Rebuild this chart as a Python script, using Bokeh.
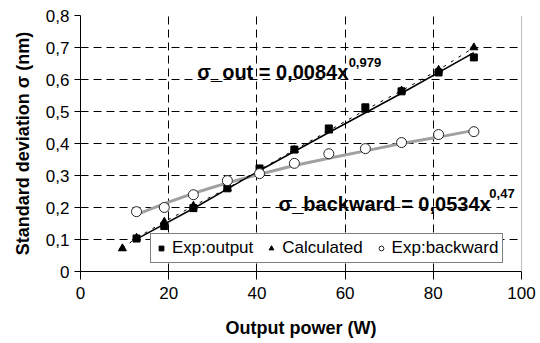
from bokeh.plotting import figure
from bokeh.models import (FixedTicker, Label, Legend, LegendItem, Span, Range1d)
from bokeh.embed import file_html
from bokeh.resources import INLINE

# ---- data ----
power = [12.7, 19.0, 25.6, 33.3, 40.6, 48.5, 56.3, 64.6, 72.8, 81.2, 89.2]
exp_output = [0.103, 0.142, 0.198, 0.260, 0.322, 0.381, 0.447, 0.513, 0.563, 0.622, 0.669]
exp_backward = [0.187, 0.200, 0.240, 0.284, 0.306, 0.338, 0.368, 0.384, 0.403, 0.428, 0.437]

calc_power = [9.5, 12.7, 19.0, 25.6, 33.3, 40.6, 48.5, 56.3, 64.6, 72.8, 81.2, 89.2]
calculated = [0.072, 0.105, 0.155, 0.205, 0.260, 0.318, 0.380, 0.440, 0.505, 0.565, 0.630, 0.700]

trend_out_x = [12.7, 26.0, 40.0, 56.0, 72.8, 89.2]
trend_out_y = [0.101, 0.200, 0.311, 0.432, 0.557, 0.684]
trend_back_x = [12.7, 19.0, 26.0, 33.3, 40.6, 48.5, 56.3, 64.6, 72.8, 81.2, 89.2]
trend_back_y = [0.178, 0.212, 0.246, 0.277, 0.304, 0.331, 0.354, 0.377, 0.400, 0.420, 0.441]

x_ticks = [0, 20, 40, 60, 80, 100]
y_ticks = [0, 0.1, 0.2, 0.3, 0.4, 0.5, 0.6, 0.7, 0.8]
y_tick_labels = ["0", "0,1", "0,2", "0,3", "0,4", "0,5", "0,6", "0,7", "0,8"]

FONT = "Liberation Sans"

p = figure(width=540, height=343, output_backend="svg", toolbar_location=None,
           x_range=Range1d(0, 100), y_range=Range1d(0, 0.8),
           min_border_left=80, min_border_right=19, min_border_top=15, min_border_bottom=72)
p.outline_line_color = None
p.background_fill_color = "white"
p.border_fill_color = "white"

# axes
for ax in (p.xaxis[0], p.yaxis[0]):
    ax.axis_line_color = "black"
    ax.axis_line_width = 1
    ax.major_tick_line_color = "black"
    ax.minor_tick_line_color = None
    ax.major_tick_in = 0
    ax.major_label_text_font = FONT
    ax.major_label_text_font_size = "17px"
    ax.major_label_text_color = "black"
    ax.axis_label_text_font = FONT
    ax.axis_label_text_font_style = "bold"
    ax.axis_label_text_font_size = "18px"
    ax.axis_label_text_color = "black"

p.xaxis.ticker = FixedTicker(ticks=x_ticks)
p.xaxis.major_tick_out = 8
p.xaxis.major_label_standoff = 7
p.xaxis.axis_label = "Output power (W)"
p.xaxis.axis_label_standoff = 16

p.yaxis.ticker = FixedTicker(ticks=y_ticks)
p.yaxis.major_label_overrides = {t: s for t, s in zip(y_ticks, y_tick_labels)}
p.yaxis.major_tick_out = 6
p.yaxis.major_label_standoff = 5
p.yaxis.axis_label = "Standard deviation σ (nm)"
p.yaxis.axis_label_standoff = 10

# grid
p.xgrid.ticker = FixedTicker(ticks=[20, 40, 60, 80])
p.ygrid.ticker = FixedTicker(ticks=[0.1, 0.2, 0.3, 0.4, 0.5, 0.6, 0.7, 0.8])
for g in (p.xgrid[0], p.ygrid[0]):
    g.grid_line_color = "black"
    g.grid_line_dash = "8 5"
    g.grid_line_width = 1

p.add_layout(Span(location=100, dimension="height", line_color="#808080", line_width=1))

# trend lines
p.line(trend_back_x, trend_back_y, line_color="#a0a0a0", line_width=3)
p.line(trend_out_x, trend_out_y, line_color="black", line_width=1.5)
p.line(calc_power, calculated, line_color="black", line_width=1, line_dash="3 6")

# smaller legend swatches: drawn first, hidden beneath the full-size markers
l_sq = p.scatter(power[:1], exp_output[:1], marker="square", size=5,
                 fill_color="black", line_color="black")
l_tri = p.scatter(calc_power[:1], calculated[:1], marker="triangle", size=6,
                  fill_color="black", line_color="black")
l_circ = p.scatter(power[:1], exp_backward[:1], marker="circle", size=7,
                   fill_color="white", line_color="#222222")

p.scatter(power, exp_output, marker="square", size=7, fill_color="black", line_color="black")
p.scatter(calc_power, calculated, marker="triangle", size=8, fill_color="black", line_color="black")
p.scatter(power, exp_backward, marker="circle", size=10, fill_color="white",
          line_color="#222222", line_width=1)

legend = Legend(items=[LegendItem(label="Exp:output", renderers=[l_sq]),
                       LegendItem(label="Calculated", renderers=[l_tri]),
                       LegendItem(label="Exp:backward", renderers=[l_circ])],
                orientation="horizontal", location=(70, 8))
legend.label_text_font = FONT
legend.label_text_font_size = "17px"
legend.label_text_color = "black"
legend.border_line_color = "black"
legend.border_line_width = 1
legend.background_fill_color = "white"
legend.background_fill_alpha = 1
legend.padding = 4
legend.margin = 0
legend.spacing = 12
legend.glyph_width = 12
legend.glyph_height = 12
legend.label_standoff = 5
legend.label_height = 18
p.add_layout(legend, "center")

# equation annotations
p.add_layout(Label(x=26.5, y=0.622, text="σ_out = 0,0084x", text_font=FONT,
                   text_font_style="bold", text_font_size="20px", text_color="black",
                   text_baseline="alphabetic"))
p.add_layout(Label(x=60.8, y=0.653, text="0,979", text_font=FONT,
                   text_font_style="bold", text_font_size="13px", text_color="black",
                   text_baseline="alphabetic"))
p.add_layout(Label(x=44.9, y=0.2125, text="σ_backward = 0,0534x", text_font=FONT,
                   text_font_style="bold", text_font_size="20px", text_color="black",
                   text_baseline="alphabetic"))
p.add_layout(Label(x=92.7, y=0.244, text="0,47", text_font=FONT,
                   text_font_style="bold", text_font_size="13px", text_color="black",
                   text_baseline="alphabetic"))

open("out.html", "w").write(file_html(p, INLINE))
